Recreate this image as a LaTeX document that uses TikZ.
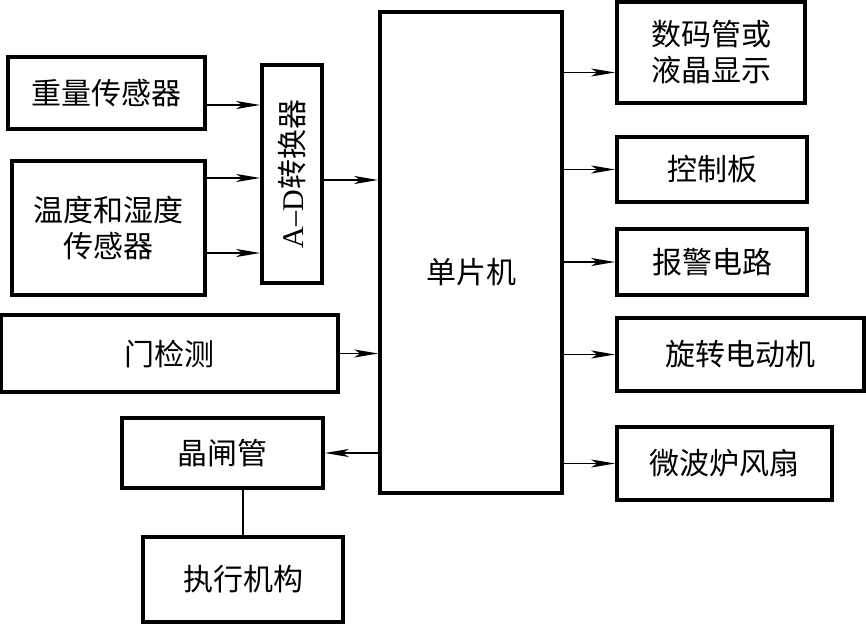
\documentclass[tikz,border=0pt]{standalone}
\usepackage{fontspec}
\setmainfont{Noto Sans CJK SC}
\newfontfamily\latinserif{Liberation Serif}
\usetikzlibrary{arrows.meta}

\begin{document}
\begin{tikzpicture}[
    x=0.5pt, y=-0.5pt,
    every node/.style={font=\fontsize{15pt}{18pt}\selectfont},
    block/.style={draw, line width=1.8pt, inner sep=0pt, align=center},
    arrow/.style={-{Stealth[length=12pt, width=4pt, inset=3pt]}, line width=0.9pt},
    link/.style={line width=0.6pt}
]
\useasboundingbox (0,0) rectangle (866,624);

% Nodes
\node[block, minimum width=98.5pt, minimum height=36pt] (weight) at (106.5,93) {重量传感器};

\node[block, minimum width=96.5pt, minimum height=67pt] (climate) at (108.5,228) {温度和湿度\\传感器};

\node[block, minimum width=30pt, minimum height=109pt] (adc) at (292,174) {\rotatebox{90}{{\latinserif A–D}转换器}};

\node[block, minimum width=91pt, minimum height=240.5pt, label={[yshift=-10pt]center:单片机}] (mcu) at (471,252.5) {};

\node[block, minimum width=168.5pt, minimum height=38.5pt] (door) at (169.5,353.5) {门检测};

\node[block, minimum width=100.5pt, minimum height=35pt] (thyristor) at (222.5,453) {晶闸管};

\node[block, minimum width=100pt, minimum height=42.5pt] (actuator) at (243,579.5) {执行机构};

\node[block, minimum width=94pt, minimum height=50.5pt] (display) at (711,52.5) {数码管或\\液晶显示};

\node[block, minimum width=95pt, minimum height=32.5pt] (panel) at (712,169.5) {控制板};

\node[block, minimum width=95pt, minimum height=33pt] (alarm) at (712,262) {报警电路};

\node[block, minimum width=123.5pt, minimum height=36.5pt] (motor) at (740.5,354.5) {旋转电动机};

\node[block, minimum width=107.5pt, minimum height=36.5pt] (fan) at (724.5,463.5) {微波炉风扇};

% Arrows
\draw[arrow] ([yshift=-6pt]weight.east) -- ([yshift=-6pt]weight.east -| adc.west);

\draw[arrow] ([yshift=25pt]climate.east) -- ([yshift=25pt]climate.east -| adc.west);

\draw[arrow] ([yshift=-12.5pt]climate.east) -- ([yshift=-12.5pt]climate.east -| adc.west);

\draw[arrow] ([yshift=-3pt]adc.east) -- ([yshift=-3pt]adc.east -| mcu.west);

\draw[arrow] (door.east) -- (door.east -| mcu.west);

\draw[arrow] (mcu.west |- thyristor.east) -- (thyristor.east);

\draw[link] (actuator.north) -- (actuator.north |- thyristor.south);

\draw[arrow] ([yshift=-10pt]display.west -| mcu.east) -- ([yshift=-10pt]display.west);

\draw[arrow] (mcu.east |- panel.west) -- (panel.west);

\draw[arrow] (mcu.east |- alarm.west) -- (alarm.west);

\draw[arrow] (mcu.east |- motor.west) -- (motor.west);

\draw[arrow] (mcu.east |- fan.west) -- (fan.west);

\end{tikzpicture}
\end{document}
